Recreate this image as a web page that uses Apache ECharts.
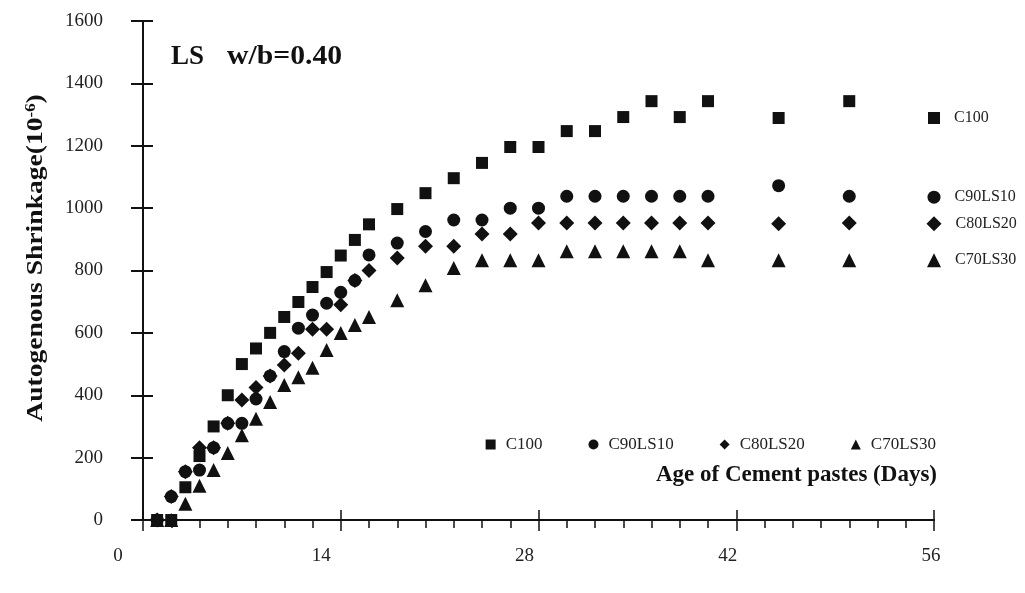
<!DOCTYPE html>
<html>
<head>
<meta charset="utf-8">
<script src="https://cdn.jsdelivr.net/npm/echarts@6/dist/echarts.min.js"></script>
<style>
html,body{margin:0;padding:0;background:#fff;}
#chart{width:1025px;height:593px;}
</style>
</head>
<body>
<div id="chart"></div>
<script>
// ---- data ----
const days = [1,2,3,4,5,6,7,8,9,10,11,12,13,14,15,16,18,20,22,24,26,28,30,32,34,36,38,40,45,50,56];
const seriesNames = ['C100','C90LS10','C80LS20','C70LS30'];
const c100    = [0,0,105,205,300,400,500,550,600,651,699,747,795,848,898,948,997,1048,1096,1145,1196,1196,1247,1247,1292,1343,1292,1343,1289,1343,1289];
const c90ls10 = [0,75,155,160,232,310,310,388,462,540,615,657,695,730,768,850,888,925,962,962,1000,1000,1038,1038,1038,1038,1038,1038,1072,1038,1035];
const c80ls20 = [0,75,155,232,232,310,385,425,462,497,535,612,612,690,768,800,840,878,878,917,917,952,952,952,952,952,952,952,950,952,950];
const c70ls30 = [0,0,52,110,160,215,272,325,378,433,458,488,545,600,625,651,705,753,808,833,833,833,862,862,862,862,862,833,833,833,833];
const xTicks = [0,14,28,42,56];
const yTicks = [0,200,400,600,800,1000,1200,1400,1600];

const values = [c100, c90ls10, c80ls20, c70ls30];
const symbols = ['rect','circle','diamond','triangle'];
const sizes = [12,13,15,14];
const FONT = '"Liberation Serif","Times New Roman",serif';
const INK = '#111';

const chart = echarts.init(document.getElementById('chart'), null, {renderer:'canvas'});

const series = seriesNames.map((name,i)=>({
  name: name,
  type: 'scatter',
  xAxisIndex: 0, yAxisIndex: 0,
  symbol: symbols[i],
  symbolSize: sizes[i],
  itemStyle: {color: INK, opacity: 1},
  emphasis:{disabled:true},
  data: days.map((d,j)=>{
    const p = {value:[d, values[i][j]]};
    if (j === days.length-1) {
      p.label = {show:true, position:'right', distance:14, formatter:name,
        fontFamily:FONT, fontSize:16, color:'#222'};
    }
    return p;
  }),
  z: 10+i
}));

const option = {
  animation:false,
  backgroundColor:'#fff',
  grid:[
    {left:143, right:91, top:21, bottom:73},
    {left:118, right:94, top:21, bottom:73}
  ],
  xAxis:[
    {gridIndex:0, type:'value', min:0, max:56, interval:14, position:'bottom',
     axisLine:{show:true, onZero:false, lineStyle:{color:INK, width:2}},
     axisTick:{show:true, inside:false, length:11, lineStyle:{color:INK, width:1.5}},
     minorTick:{show:true, splitNumber:7, length:8, lineStyle:{color:INK, width:1.5}},
     axisLabel:{show:false}, splitLine:{show:false}},
    {gridIndex:0, type:'value', min:0, max:56, interval:14, position:'bottom',
     axisLine:{show:false, onZero:false},
     axisTick:{show:true, inside:true, length:10, lineStyle:{color:INK, width:1.5}},
     axisLabel:{show:false}, splitLine:{show:false}},
    {gridIndex:1, type:'value', min:0, max:56, interval:14, position:'bottom',
     axisLine:{show:false, onZero:false}, axisTick:{show:false},
     axisLabel:{show:true, margin:27, fontFamily:FONT, fontSize:19, color:'#222',
       customValues: xTicks, formatter: v => String(v)},
     splitLine:{show:false}}
  ],
  yAxis:[
    {gridIndex:0, type:'value', min:0, max:1600, interval:200,
     axisLine:{show:true, onZero:false, lineStyle:{color:INK, width:2}},
     axisTick:{show:true, inside:false, length:12, lineStyle:{color:INK, width:2}},
     axisLabel:{show:true, margin:40, fontFamily:FONT, fontSize:19, color:'#222',
       customValues: yTicks, formatter: v => String(v)},
     splitLine:{show:false}},
    {gridIndex:0, type:'value', min:0, max:1600, interval:200, position:'left',
     axisLine:{show:false, onZero:false},
     axisTick:{show:true, inside:true, length:10, lineStyle:{color:INK, width:2}},
     axisLabel:{show:false}, splitLine:{show:false}},
    {gridIndex:1, type:'value', min:0, max:1600, show:false}
  ],
  legend:{
    data: seriesNames,
    right: 84, top: 431,
    itemWidth:10, itemHeight:10, itemGap:46,
    textStyle:{fontFamily:FONT, fontSize:17, color:'#222', padding:[0,0,0,5]},
    selectedMode:false
  },
  graphic:[
    {type:'text', left:171, top:44,
     style:{text:'LS', font:'bold 27px "Liberation Serif", serif', fill:'#111'}},
    {type:'text', left:227, top:44, scaleX:1.1,
     style:{text:'w/b=0.40', font:'bold 27px "Liberation Serif", serif', fill:'#111'}},
    {type:'text', right:88, top:464,
     style:{text:'Age of Cement pastes (Days)', font:'bold 23px "Liberation Serif", serif', fill:'#111'}},
    {type:'text', x:36, y:258, rotation:Math.PI/2, scaleX:1.2,
     style:{text:'{b|Autogenous Shrinkage(10}{s|-6}{b|)}', align:'center', verticalAlign:'middle',
       rich:{
         b:{fontFamily:FONT, fontSize:23, fontWeight:'bold', fill:'#111'},
         s:{fontFamily:FONT, fontSize:14, fontWeight:'bold', fill:'#111', verticalAlign:'top', padding:[0,0,10,0]}
       }}}
  ],
  series: series
};
chart.setOption(option);
</script>
</body>
</html>
